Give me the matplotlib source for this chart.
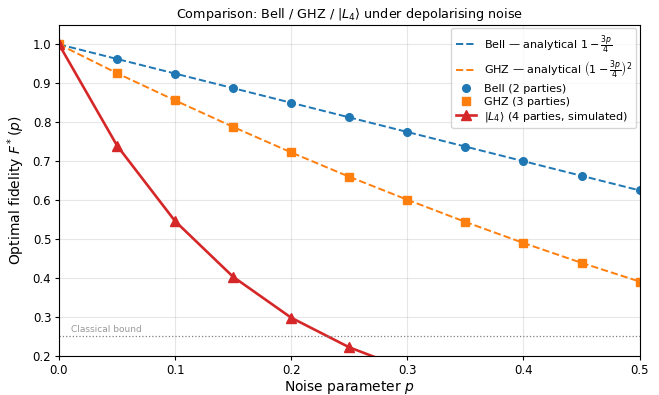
import matplotlib
matplotlib.use("Agg")
import matplotlib.pyplot as plt

# noise parameter values
p_vals = [0.0, 0.05, 0.1, 0.15, 0.2, 0.25, 0.3, 0.35, 0.4, 0.45, 0.5]

# fidelities
bell_vals = [1.0, 0.9625, 0.925, 0.8875, 0.85, 0.8125, 0.775, 0.7375, 0.70, 0.6625, 0.625]
ghz_vals = [1.0, 0.926, 0.856, 0.788, 0.7225, 0.660, 0.601, 0.544, 0.490, 0.439, 0.391]
l4_vals = [1.0, 0.740, 0.546, 0.403, 0.298, 0.222, 0.165, 0.122, 0.091, 0.067, 0.050]

classical_bound = 0.25


def main():
    fig = plt.figure(figsize=(6.59, 3.95), dpi=100)
    ax = fig.add_axes([0.0895, 0.099, 0.881, 0.838])

    ax.plot(p_vals, bell_vals, '--', color='#1f77b4', lw=1.4,
            label=r'Bell — analytical $1-\frac{3p}{4}$')
    ax.plot(p_vals, ghz_vals, '--', color='#ff7f0e', lw=1.4,
            label=r'GHZ — analytical $\left(1-\frac{3p}{4}\right)^2$')
    ax.plot(p_vals, bell_vals, 'o', color='#1f77b4', ms=5.5, label='Bell (2 parties)')
    ax.plot(p_vals, ghz_vals, 's', color='#ff7f0e', ms=5.5, label='GHZ (3 parties)')
    ax.plot(p_vals, l4_vals, '-^', color='#d62728', lw=1.9, ms=6.5,
            label=r'$|L_4\rangle$ (4 parties, simulated)')

    ax.axhline(classical_bound, color='grey', ls=':', lw=0.9)
    ax.text(0.01, classical_bound + 0.005, 'Classical bound', color='grey',
            fontsize=6.5, alpha=0.8, va='bottom')

    ax.set_xlim(0, 0.5)
    ax.set_ylim(0.2, 1.05)
    ax.set_xlabel(r'Noise parameter $p$', fontsize=10, labelpad=1)
    ax.set_ylabel(r'Optimal fidelity $F^*(p)$', fontsize=10, labelpad=4)
    ax.set_title(r'Comparison: Bell / GHZ / $|L_4\rangle$ under depolarising noise',
                 fontsize=9.2, pad=5)
    ax.tick_params(labelsize=8.5, length=3, pad=2.5)
    ax.grid(True, alpha=0.3)
    ax.legend(loc='upper right', fontsize=8, labelspacing=0.25,
              borderaxespad=0.3, handlelength=1.8, handletextpad=0.7)

    fig.savefig('out.png', dpi=100)


if __name__ == '__main__':
    main()
